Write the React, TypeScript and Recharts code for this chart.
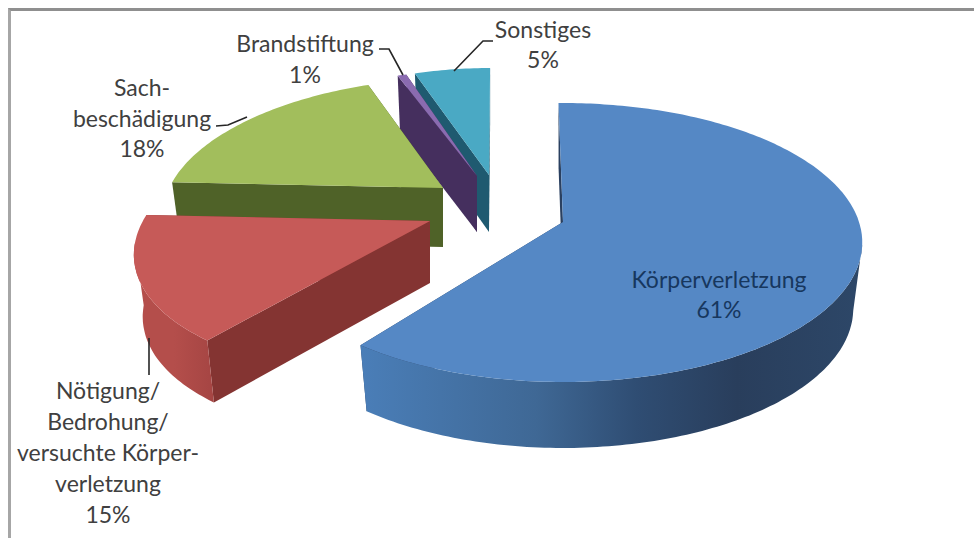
import { PieChart, Pie } from "recharts";

// painted back to front, so the list runs counter-clockwise from the top
const CATEGORIES = ["Sonstiges", "Brandstiftung", "Sachbeschädigung", "Nötigung", "Körperverletzung"];
const VALUES = [5.2, 0.6, 18.2, 15.4, 60.6];

const LABEL_LINES = [
  ["Sonstiges", "5%"],
  ["Brandstiftung", "1%"],
  ["Sach-", "beschädigung", "18%"],
  ["Nötigung/", "Bedrohung/", "versuchte Körper-", "verletzung", "15%"],
  ["Körperverletzung", "61%"],
];
const LABEL_X = [543, 305, 142, 108, 719];
const LABEL_Y = [38, 52, 96, 399, 288];
const LABEL_STEP = [30, 31, 30.5, 31, 30];
const LABEL_COLOR = ["#404040", "#404040", "#404040", "#404040", "#17375e"];
const LEADERS = [
  "M493 41 L483 41 L454 71",
  "M379 49 L389 49 L403 75",
  "M216 126 L228 125 L247 117",
  "M149 375 L149 338",
  "",
];

// explosion of each slice, relative to the pie centre
const OFFSET_X = [-6, -18, -52, -65, 68];
const OFFSET_Y = [-20, -19, -7, 26, 27];
const SCALE = [0.9, 0.9, 0.925, 0.97, 1];
const SKEW = [-0.048, -0.08, -0.145, -0.22, 0];
const DEPTH = [57, 56, 59, 62, 66];

const TOP_COLOR = ["#4aa9c4", "#8a6bb0", "#a2be5c", "#c65a58", "#5588c5"];
const FACE_COLOR = ["#1f5a70", "#452f5e", "#4f6228", "#843432", "#2a4060"];
const WALL_STOPS = [
  [["0", "#2f7d96"], ["1", "#2f7d96"]],
  [["0", "#5a4478"], ["1", "#5a4478"]],
  [["0", "#5d7530"], ["1", "#5d7530"]],
  [["0", "#b44e4b"], ["0.5", "#b44e4b"], ["1", "#a54543"]],
  [["0", "#4a7eb8"], ["0.35", "#3f6895"], ["0.55", "#2f4d73"], ["0.75", "#293e5c"], ["1", "#2d4768"]],
];

const TILT = 0.461;
const PERSPECTIVE = 0.147;
const BOTTOM_SHRINK = 0.97;
const ROTATION = 1;
const FONT = "Lato, 'Open Sans', sans-serif";

type Pt = [number, number];

function toPath(points: Pt[]) {
  return "M" + points.map((p) => `${p[0].toFixed(1)} ${p[1].toFixed(1)}`).join(" L") + " Z";
}

function SliceShape(props: any) {
  const i = CATEGORIES.indexOf(props.name);
  const apex: Pt = [props.cx + OFFSET_X[i], props.cy + OFFSET_Y[i]];
  const rx = props.outerRadius * SCALE[i];
  const depth = DEPTH[i];

  // the library gives the angles, this only projects them onto the tilted disc
  const project = (deg: number): Pt => {
    const a = (deg * Math.PI) / 180;
    const w = 1 + PERSPECTIVE * Math.sin(a);
    const dy = -(rx * TILT * Math.sin(a)) / w;
    return [apex[0] + (rx * Math.cos(a)) / w + SKEW[i] * dy, apex[1] + dy];
  };
  const lower = (p: Pt): Pt => [apex[0] + (p[0] - apex[0]) * BOTTOM_SHRINK, p[1] + depth];

  const from = Math.min(props.startAngle, props.endAngle);
  const to = Math.max(props.startAngle, props.endAngle);
  const angles: number[] = [];
  for (let d = from; d < to; d += 1) angles.push(d);
  angles.push(to);
  const rim = angles.map(project);

  // only the part of the outer wall that faces the viewer
  const front = angles
    .filter((d) => Math.sin((d * Math.PI) / 180) <= -PERSPECTIVE)
    .map(project);

  const first = rim[0];
  const last = rim[rim.length - 1];
  const faceA = [apex, first, lower(first), lower(apex)];
  const faceB = [apex, last, lower(last), lower(apex)];
  const gradId = `wall-${i}`;

  return (
    <g>
      <defs>
        <linearGradient id={gradId} x1="0" y1="0" x2="1" y2="0">
          {WALL_STOPS[i].map(([offset, color]) => (
            <stop key={offset} offset={offset} stopColor={color} />
          ))}
        </linearGradient>
      </defs>
      <path d={toPath(faceA)} fill={FACE_COLOR[i]} />
      <path d={toPath(faceB)} fill={FACE_COLOR[i]} />
      {front.length > 1 && (
        <path d={toPath([...front, ...front.map(lower).reverse()])} fill={`url(#${gradId})`} />
      )}
      <path d={toPath([apex, ...rim])} fill={TOP_COLOR[i]} />
    </g>
  );
}

function SliceLabel(props: any) {
  const i = CATEGORIES.indexOf(props.name);
  return (
    <text
      x={LABEL_X[i]}
      y={LABEL_Y[i]}
      textAnchor="middle"
      fontFamily={FONT}
      fontSize={23}
      fill={LABEL_COLOR[i]}
      stroke="none"
    >
      {LABEL_LINES[i].map((line, n) => (
        <tspan key={n} x={LABEL_X[i]} y={LABEL_Y[i] + n * LABEL_STEP[i]}>
          {line}
        </tspan>
      ))}
    </text>
  );
}

function SliceLeader(props: any) {
  const i = CATEGORIES.indexOf(props.name);
  if (!LEADERS[i]) return <g />;
  return <path d={LEADERS[i]} fill="none" stroke="#262626" strokeWidth={1.6} />;
}

export default function App() {
  const data = CATEGORIES.map((name, i) => ({ name, value: VALUES[i] }));

  return (
    <div style={{ position: "absolute", left: 0, top: 0, width: 974, height: 538, background: "#fff", overflow: "hidden" }}>
      <div style={{ position: "absolute", left: 8, top: 8, right: 0, bottom: 0, borderLeft: "3px solid #a6a6a6", borderTop: "3px solid #8f8f8f" }} />
      <div style={{ position: "absolute", left: 0, top: 0 }}>
        <PieChart width={974} height={538}>
          <Pie
            data={data}
            dataKey="value"
            nameKey="name"
            cx={490}
            cy={190}
            innerRadius={0}
            outerRadius={296}
            startAngle={90 + ROTATION}
            endAngle={450 + ROTATION}
            stroke="none"
            shape={SliceShape}
            inactiveShape={SliceShape}
            activeShape={SliceShape}
            label={SliceLabel}
            labelLine={SliceLeader}
            isAnimationActive={false}
          />
        </PieChart>
      </div>
    </div>
  );
}
